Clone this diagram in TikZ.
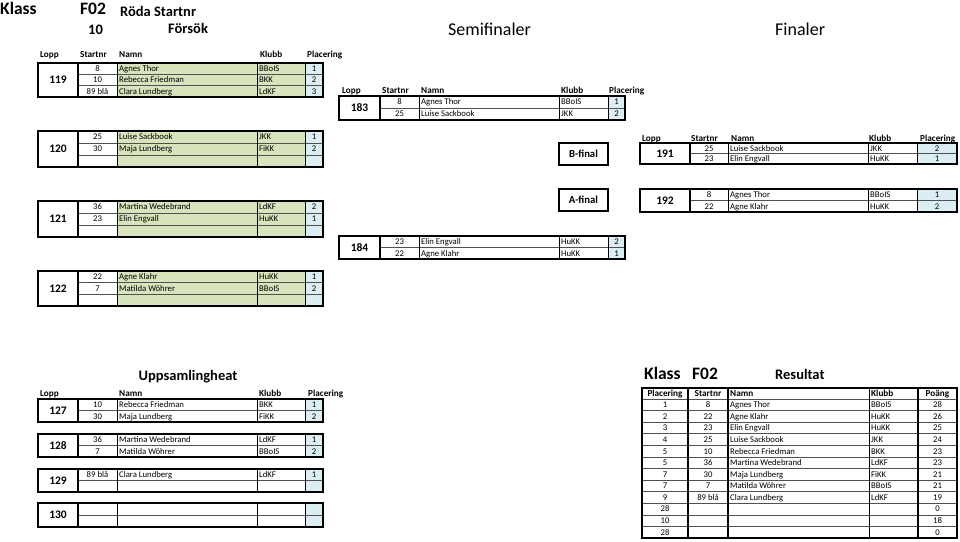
\documentclass[tikz,border=0pt]{standalone}
\usepackage{fontspec}
\setmainfont{Carlito}
\definecolor{cgreen}{RGB}{215,228,189}
\definecolor{cblue}{RGB}{219,238,244}
\definecolor{lgray}{RGB}{80,80,80}
\tikzset{
 txt/.style={font=\fontsize{8.7}{10}\selectfont, inner sep=0pt, anchor=base},
 txtl/.style={txt, anchor=base west},
 hdr/.style={font=\bfseries\fontsize{9.2}{11}\selectfont, inner sep=0pt, anchor=base west},
 hdrc/.style={hdr, anchor=base},
 loppnum/.style={font=\bfseries\fontsize{11.5}{13}\selectfont, inner sep=0pt},
 tframe/.style={line width=1.4pt},
 vline/.style={line width=0.7pt},
 hline/.style={line width=0.5pt, lgray},
 bigb/.style={font=\bfseries\fontsize{17.5}{20}\selectfont, inner sep=0pt, anchor=base west},
 midb/.style={font=\bfseries\fontsize{14.5}{17}\selectfont, inner sep=0pt, anchor=base west},
 bigr/.style={font=\fontsize{18}{21}\selectfont, inner sep=0pt, anchor=base west},
 finalbox/.style={draw, line width=1.4pt, font=\bfseries\fontsize{10.7}{12}\selectfont, minimum width=49pt, minimum height=22pt, inner sep=0pt},
}
\newcommand\setcols[6]{\def\ca{#1}\def\cb{#2}\def\cc{#3}\def\cd{#4}\def\ce{#5}\def\cf{#6}}
\def\nfill{cgreen}
\newcommand\trow[7]{%
 \fill[\nfill] (\cc,#2) rectangle (\ce,#3);
 \fill[cblue] (\ce,#2) rectangle (\cf,#3);
 \draw[hline] (\cb,#2) -- (\cf,#2);
 \node[txt] (#1s) at ({(\cb+\cc)/2},{(#2+#3)/2+2.9}) {#4};
 \node[txtl] (#1n) at ({\cc+2},{(#2+#3)/2+2.9}) {#5};
 \node[txtl] (#1k) at ({\cd+2},{(#2+#3)/2+2.9}) {#6};
 \node[txt] (#1p) at ({(\ce+\cf)/2},{(#2+#3)/2+2.9}) {#7};
}
\newcommand\tframe[4]{%
 \draw[vline] (\cc,#2) -- (\cc,#3) (\cd,#2) -- (\cd,#3) (\ce,#2) -- (\ce,#3);
 \draw[tframe] (\cb,#2) -- (\cb,#3);
 \draw[tframe] (\ca,#2) rectangle (\cf,#3);
 \node[loppnum] (#1) at ({(\ca+\cb)/2},{(#2+#3)/2}) {#4};
}
\begin{document}
\begin{tikzpicture}[x=1pt,y=-1pt]
\useasboundingbox (0,0) rectangle (960,541);
\fill[white] (0,0) rectangle (960,541);
% titles
\node[bigb] (klass) at (0,14) {Klass};
\node[bigb] (f02) at (80,14) {F02};
\node[midb] (roda) at (120,16) {Röda Startnr};
\node[midb] (tio) at (88,34) {10};
\node[midb] (forsok) at (168,33) {Försök};
\node[bigr] (semi) at (448,35) {Semifinaler};
\node[bigr] (fin) at (775,35) {Finaler};
% preliminary header
\node[hdr] (h1a) at (40,57) {Lopp};
\node[hdr] (h1b) at (80,57) {Startnr};
\node[hdr] (h1c) at (119,57) {Namn};
\node[hdr] (h1d) at (260,57) {Klubb};
\node[hdr] (h1e) at (307,57) {Placering};
\setcols{38}{78}{117}{257}{305}{323}
\def\nfill{cgreen}
\trow{a1}{63}{74.3}{8}{Agnes Thor}{BBoIS}{1}
\trow{a2}{74.3}{85.7}{10}{Rebecca Friedman}{BKK}{2}
\trow{a3}{85.7}{97}{89 blå}{Clara Lundberg}{LdKF}{3}
\tframe{l119}{63}{97}{119}
\trow{b1}{131}{143}{25}{Luise Sackbook}{JKK}{1}
\trow{b2}{143}{155}{30}{Maja Lundberg}{FiKK}{2}
\trow{b3}{155}{167}{}{}{}{}
\tframe{l120}{131}{167}{120}
\trow{c1}{201}{213}{36}{Martina Wedebrand}{LdKF}{2}
\trow{c2}{213}{225}{23}{Elin Engvall}{HuKK}{1}
\trow{c3}{225}{237}{}{}{}{}
\tframe{l121}{201}{237}{121}
\trow{d1}{271}{282.7}{22}{Agne Klahr}{HuKK}{1}
\trow{d2}{282.7}{294.3}{7}{Matilda Wöhrer}{BBoIS}{2}
\trow{d3}{294.3}{306}{}{}{}{}
\tframe{l122}{271}{306}{122}
% semifinals
\node[hdr] (h2a) at (342,93) {Lopp};
\node[hdr] (h2b) at (382,93) {Startnr};
\node[hdr] (h2c) at (421,93) {Namn};
\node[hdr] (h2d) at (561,93) {Klubb};
\node[hdr] (h2e) at (609,93) {Placering};
\setcols{339}{380}{419}{559}{608}{625}
\def\nfill{white}
\trow{e1}{96}{108}{8}{Agnes Thor}{BBoIS}{1}
\trow{e2}{108}{120}{25}{Luise Sackbook}{JKK}{2}
\tframe{l183}{96}{120}{183}
\trow{f1}{236}{247.5}{23}{Elin Engvall}{HuKK}{2}
\trow{f2}{247.5}{259}{22}{Agne Klahr}{HuKK}{1}
\tframe{l184}{236}{259}{184}
% finals
\node[finalbox] (bfinal) at (583.5,154) {B-final};
\node[finalbox] (afinal) at (583.5,200) {A-final};
\node[hdr] (h3a) at (642,141) {Lopp};
\node[hdr] (h3b) at (691,141) {Startnr};
\node[hdr] (h3c) at (731,141) {Namn};
\node[hdr] (h3d) at (869,141) {Klubb};
\node[hdr] (h3e) at (920,141) {Placering};
\setcols{640}{690}{728}{868}{917}{957}
\trow{g1}{143}{153.5}{25}{Luise Sackbook}{JKK}{2}
\trow{g2}{153.5}{164}{23}{Elin Engvall}{HuKK}{1}
\tframe{l191}{143}{164}{191}
\trow{h1}{189}{200.5}{8}{Agnes Thor}{BBoIS}{1}
\trow{h2}{200.5}{212}{22}{Agne Klahr}{HuKK}{2}
\tframe{l192}{189}{212}{192}
% uppsamlingheat
\node[midb, anchor=base] (upps) at (188,380) {Uppsamlingheat};
\node[hdr] (h4a) at (40,396) {Lopp};
\node[hdr] (h4c) at (119,396) {Namn};
\node[hdr] (h4d) at (259,396) {Klubb};
\node[hdr] (h4e) at (308,396) {Placering};
\setcols{38}{78}{117}{257}{305}{323}
\trow{i1}{399}{410.5}{10}{Rebecca Friedman}{BKK}{1}
\trow{i2}{410.5}{422}{30}{Maja Lundberg}{FiKK}{2}
\tframe{l127}{399}{422}{127}
\trow{j1}{434}{445.5}{36}{Martina Wedebrand}{LdKF}{1}
\trow{j2}{445.5}{457}{7}{Matilda Wöhrer}{BBoIS}{2}
\tframe{l128}{434}{457}{128}
\trow{k1}{469}{480.5}{89 blå}{Clara Lundberg}{LdKF}{1}
\trow{k2}{480.5}{492}{}{}{}{}
\tframe{l129}{469}{492}{129}
\trow{m1}{503}{515}{}{}{}{}
\trow{m2}{515}{527}{}{}{}{}
\tframe{l130}{503}{527}{130}
% result
\node[bigb] (klass2) at (644,379) {Klass};
\node[bigb] (f022) at (692,379) {F02};
\node[midb] (res) at (775,379) {Resultat};
\node[hdrc] (r0p) at (665,396) {Placering};
\node[hdrc] (r0s) at (708,396) {Startnr};
\node[hdr] (r0n) at (730,396) {Namn};
\node[hdr] (r0k) at (871,396) {Klubb};
\node[hdrc] (r0o) at (937.5,396) {Poäng};
\foreach \i/\pl/\sn/\nm/\kl/\po in {1/1/8/Agnes Thor/BBoIS/28, 2/2/22/Agne Klahr/HuKK/26, 3/3/23/Elin Engvall/HuKK/25, 4/4/25/Luise Sackbook/JKK/24, 5/5/10/Rebecca Friedman/BKK/23, 6/5/36/Martina Wedebrand/LdKF/23, 7/7/30/Maja Lundberg/FiKK/21, 8/7/7/Matilda Wöhrer/BBoIS/21, 9/9/89 blå/Clara Lundberg/LdKF/19, 10/28////0, 11/10////18, 12/28////0}{
 \pgfmathsetmacro\yt{399+(\i-1)*11.58}
 \pgfmathsetmacro\yb{\yt+11.58/2+2.9}
 \draw[hline] (642,\yt) -- (957,\yt);
 \node[txt] (r\i p) at (665,\yb) {\pl};
 \node[txt] (r\i s) at (708,\yb) {\sn};
 \node[txtl] (r\i n) at (730,\yb) {\nm};
 \node[txtl] (r\i k) at (871,\yb) {\kl};
 \node[txt] (r\i o) at (937.5,\yb) {\po};
}
\draw[vline] (869,388) -- (869,538);
\draw[line width=1.1pt] (688,388) -- (688,538) (728,388) -- (728,538) (918,388) -- (918,538);
\draw[tframe] (642,388) rectangle (957,538);
\end{tikzpicture}
\end{document}
